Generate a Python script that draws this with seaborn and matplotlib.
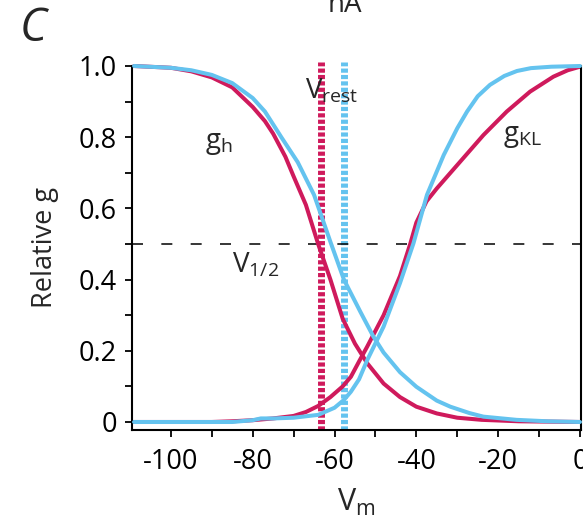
import matplotlib
matplotlib.use("Agg")
import matplotlib.pyplot as plt
from matplotlib.ticker import MultipleLocator
import pandas as pd
import seaborn as sns

# ---- data ----
vm_gh_red = [-109, -100, -95, -90, -85, -80, -77, -75, -72, -70, -67, -64, -61, -58, -55, -52, -48, -44, -40, -35, -30, -24, -15, 0]
gh_red = [1.0, 0.995, 0.985, 0.968, 0.94, 0.885, 0.845, 0.81, 0.745, 0.69, 0.61, 0.50, 0.40, 0.29, 0.22, 0.165, 0.108, 0.07, 0.043, 0.024, 0.012, 0.006, 0.002, 0.0]

vm_gh_blue = [-109, -100, -95, -90, -85, -80, -77, -73, -69, -65, -61, -57.7, -53.7, -50.5, -48, -44, -40, -35, -31.7, -27, -23.6, -15.5, -8, 0]
gh_blue = [1.0, 0.995, 0.988, 0.975, 0.952, 0.91, 0.872, 0.80, 0.73, 0.638, 0.506, 0.40, 0.31, 0.24, 0.195, 0.14, 0.099, 0.06, 0.043, 0.025, 0.015, 0.006, 0.002, 0.0]

vm_gkl_red = [-109, -90, -85, -80, -75, -70, -67, -64, -61, -58, -56, -54, -52, -48, -44, -41.5, -40, -37.5, -35, -29.3, -23.6, -17.9, -12.2, -6.5, -3, 0]
gkl_red = [0.0, 0.0, 0.002, 0.005, 0.01, 0.017, 0.028, 0.045, 0.07, 0.10, 0.127, 0.17, 0.212, 0.30, 0.41, 0.50, 0.56, 0.62, 0.656, 0.731, 0.806, 0.872, 0.928, 0.97, 0.988, 0.998]

vm_gkl_blue = [-109, -85, -80, -78, -75, -70, -64, -60, -57.7, -56, -54, -52, -48, -44, -40.7, -37.4, -33.3, -30, -27.6, -25, -22, -18.5, -15.4, -12, -7, 0]
gkl_blue = [0.0, 0.0, 0.005, 0.01, 0.01, 0.012, 0.02, 0.04, 0.062, 0.085, 0.12, 0.174, 0.268, 0.39, 0.502, 0.638, 0.75, 0.825, 0.872, 0.915, 0.947, 0.972, 0.986, 0.994, 0.998, 1.0]

vrest_red = [-63.3]
vrest_blue = [-57.7]
half_level = [0.5]

x_ticks = [-100, -80, -60, -40, -20, 0]
x_tick_labels = ["-100", "-80", "-60", "-40", "-20", "0"]
y_ticks = [0, 0.2, 0.4, 0.6, 0.8, 1.0]
y_tick_labels = ["0", "0.2", "0.4", "0.6", "0.8", "1.0"]

RED = "#CF1A5C"
BLUE = "#64C3EF"

sns.set_style("ticks")
plt.rcParams["font.family"] = ["Open Sans", "DejaVu Sans"]
plt.rcParams["mathtext.default"] = "regular"

W, H = 583, 524
fig = plt.figure(figsize=(W / 100, H / 100), dpi=100)
ax = fig.add_axes([132 / W, 1 - 430 / H, (581 - 132) / W, (430 - 66) / H])

# vertical resting potential markers
for v in vrest_red:
    ax.axvline(v, ymax=1.01, color=RED, lw=5, ls=(0, (0.6, 0.32)), dash_capstyle="butt",
               zorder=1, clip_on=False)
for v in vrest_blue:
    ax.axvline(v, ymax=1.01, color=BLUE, lw=5, ls=(0, (0.6, 0.32)), dash_capstyle="butt",
               zorder=1, clip_on=False)
for h in half_level:
    ax.axhline(h, color="black", lw=1.1, ls=(0, (7.2, 12.0)), zorder=1.5)

curves = [
    (vm_gh_red, gh_red, RED, 2),
    (vm_gkl_red, gkl_red, RED, 2),
    (vm_gh_blue, gh_blue, BLUE, 3),
    (vm_gkl_blue, gkl_blue, BLUE, 3),
]
for xs, ys, col, z in curves:
    df = pd.DataFrame({"Vm": xs, "g": ys})
    sns.lineplot(data=df, x="Vm", y="g", color=col, lw=2.9, estimator=None,
                 sort=False, ax=ax, zorder=z)
for ln in ax.lines:
    ln.set_clip_on(False)

ax.set_xlim(-109.5, 0.25)
ax.set_ylim(-0.0225, 1.0)
ax.set_xticks(x_ticks)
ax.set_xticklabels(x_tick_labels)
ax.set_yticks(y_ticks)
ax.set_yticklabels(y_tick_labels)
ax.xaxis.set_minor_locator(MultipleLocator(10))
ax.yaxis.set_minor_locator(MultipleLocator(0.1))
ax.tick_params(which="both", direction="out", length=5, width=1.3, color="black",
               labelsize=19.5, labelcolor="black")
ax.tick_params(axis="y", which="both", pad=6)
ax.tick_params(axis="x", which="both", pad=8)

for s in ["left", "bottom", "right"]:
    ax.spines[s].set_visible(True)
    ax.spines[s].set_linewidth(1.5)
    ax.spines[s].set_color("black")
ax.spines["top"].set_visible(False)

ax.set_xlabel("V$_m$", fontsize=22, labelpad=8)
ax.set_ylabel("Relative g", fontsize=19.5, labelpad=14)

# annotations
ax.text(-91.7, 0.77, "g$_h$", fontsize=20, ha="left", va="baseline")
ax.text(-67.2, 0.91, "V$_{rest}$", fontsize=20, ha="left", va="baseline")
ax.text(-18.8, 0.79, "g$_{KL}$", fontsize=20, ha="left", va="baseline")
ax.text(-85.0, 0.42, "V$_{1/2}$", fontsize=20, ha="left", va="baseline")

fig.text(33 / W, 1 - 29 / H, "C", fontsize=33, style="italic", ha="center", va="center")
fig.text(345 / W, 1 - 12 / H, "nA", fontsize=20, ha="center", va="baseline")

fig.savefig("out.png", dpi=100)
